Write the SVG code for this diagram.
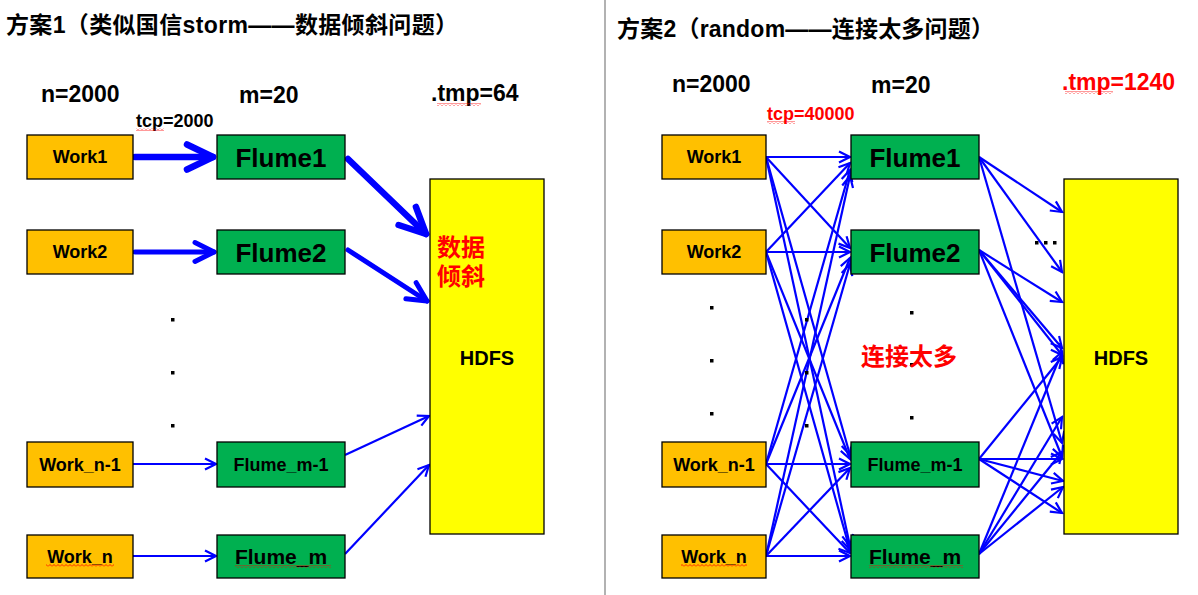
<svg xmlns="http://www.w3.org/2000/svg" width="1198" height="595" viewBox="0 0 1198 595">
<style>
text{font-family:"Liberation Sans","Noto Sans CJK SC",sans-serif;font-weight:bold;fill:#000}
.title{font-size:23px}
.hdr{font-size:23px}
.tcp{font-size:18px}
.red{fill:#ff0000}
.nt{font-size:18px;text-anchor:middle}
.fl{font-size:26px;text-anchor:middle}
.flm{font-size:21px;text-anchor:middle}
.hd{font-size:20px;text-anchor:middle}
.cn{font-size:24px;fill:#ff0000}
.work{fill:#ffc000;stroke:#000;stroke-width:1.3}
.flume{fill:#00b050;stroke:#000;stroke-width:1.3}
.hdfs{fill:#ffff00;stroke:#000;stroke-width:1.3}
.c{stroke:#0000ff;fill:none;stroke-width:2.2;marker-end:url(#ah)}
.big{stroke:#0000ff;fill:none;stroke-width:6.5;stroke-linecap:round;marker-end:url(#ahb)}
.med{stroke:#0000ff;fill:none;stroke-width:5;stroke-linecap:round;marker-end:url(#ahm)}
.dot{fill:#000}
.sq{fill:url(#wave)}
</style>
<defs>
<marker id="ah" markerUnits="userSpaceOnUse" viewBox="-14 -8 16 16" refX="0" refY="0" markerWidth="16" markerHeight="16" orient="auto">
<path d="M-11,-5.5 L0,0 L-11,5.5" fill="none" stroke="#0000ff" stroke-width="2.2"/>
</marker>
<marker id="ahb" markerUnits="userSpaceOnUse" viewBox="-32 -18 38 36" refX="0" refY="0" markerWidth="38" markerHeight="36" orient="auto">
<path d="M-26,-12.5 L0,0 L-26,12.5" fill="none" stroke="#0000ff" stroke-width="6.5" stroke-linecap="round" stroke-linejoin="round"/>
</marker>
<marker id="ahm" markerUnits="userSpaceOnUse" viewBox="-26 -14 30 28" refX="0" refY="0" markerWidth="30" markerHeight="28" orient="auto">
<path d="M-19,-9.5 L0,0 L-19,9.5" fill="none" stroke="#0000ff" stroke-width="5" stroke-linecap="round" stroke-linejoin="round"/>
</marker>
<pattern id="wave" width="4" height="3" patternUnits="userSpaceOnUse">
<path d="M0,2.5 L2,0.5 L4,2.5" fill="none" stroke="#ff0000" stroke-width="0.8"/>
</pattern>
</defs>
<rect width="1198" height="595" fill="#ffffff"/>
<line x1="605" y1="0" x2="605" y2="595" stroke="#7f7f7f" stroke-width="1.2"/>

<g id="labels">
<text class="title" x="6" y="33" textLength="452" lengthAdjust="spacing">方案1（类似国信storm——数据倾斜问题）</text>
<text class="title" x="617" y="37" textLength="377" lengthAdjust="spacing">方案2（random——连接太多问题）</text>
<text class="hdr" x="41" y="102">n=2000</text>
<text class="hdr" x="239" y="103">m=20</text>
<text class="hdr" x="431" y="101">.tmp=64</text>
<text class="tcp" x="136" y="127">tcp=2000</text>
<text class="hdr" x="672" y="92">n=2000</text>
<text class="hdr" x="871" y="93">m=20</text>
<text class="hdr red" x="1062" y="90">.tmp=1240</text>
<text class="tcp red" x="767" y="120">tcp=40000</text>
<rect class="sq" x="136" y="128" width="28" height="3"/>
<rect class="sq" x="437" y="103" width="44" height="3"/>
<rect class="sq" x="767" y="121" width="28" height="3"/>
<rect class="sq" x="1065" y="91" width="48" height="3"/>
</g>

<g id="connectors">
<line class="big" x1="135" y1="157" x2="213" y2="157"/>
<line class="med" x1="135" y1="252" x2="214" y2="252"/>
<line class="big" x1="348" y1="159" x2="426" y2="234"/>
<line class="med" x1="348" y1="250" x2="427" y2="301"/>
<line class="c" x1="133" y1="464" x2="216" y2="464"/>
<line class="c" x1="133" y1="556" x2="216" y2="556"/>
<line class="c" x1="345" y1="455" x2="429" y2="416"/>
<line class="c" x1="345" y1="554" x2="429" y2="465"/>

<line class="c" x1="766" y1="157" x2="850" y2="157"/>
<line class="c" x1="766" y1="157" x2="850" y2="248"/>
<line class="c" x1="766" y1="157" x2="850" y2="455"/>
<line class="c" x1="766" y1="157" x2="850" y2="546"/>
<line class="c" x1="766" y1="252" x2="850" y2="163"/>
<line class="c" x1="766" y1="252" x2="850" y2="252"/>
<line class="c" x1="766" y1="252" x2="850" y2="459"/>
<line class="c" x1="766" y1="252" x2="850" y2="550"/>
<line class="c" x1="766" y1="464" x2="850" y2="170"/>
<line class="c" x1="766" y1="464" x2="850" y2="258"/>
<line class="c" x1="766" y1="464" x2="850" y2="464"/>
<line class="c" x1="766" y1="464" x2="850" y2="553"/>
<line class="c" x1="766" y1="556" x2="850" y2="176"/>
<line class="c" x1="766" y1="556" x2="850" y2="264"/>
<line class="c" x1="766" y1="556" x2="850" y2="468"/>
<line class="c" x1="766" y1="556" x2="850" y2="556"/>

<line class="c" x1="979" y1="157" x2="1062" y2="212"/>
<line class="c" x1="979" y1="157" x2="1062" y2="272"/>
<line class="c" x1="979" y1="157" x2="1062" y2="443"/>
<line class="c" x1="979" y1="250" x2="1062" y2="302"/>
<line class="c" x1="979" y1="250" x2="1062" y2="348"/>
<line class="c" x1="979" y1="250" x2="1062" y2="355"/>
<line class="c" x1="979" y1="250" x2="1062" y2="457"/>
<line class="c" x1="979" y1="459" x2="1062" y2="357"/>
<line class="c" x1="979" y1="459" x2="1062" y2="459"/>
<line class="c" x1="979" y1="459" x2="1063" y2="481"/>
<line class="c" x1="979" y1="459" x2="1062" y2="513"/>
<line class="c" x1="979" y1="554" x2="1062" y2="352"/>
<line class="c" x1="979" y1="554" x2="1062" y2="417"/>
<line class="c" x1="979" y1="554" x2="1062" y2="452"/>
<line class="c" x1="979" y1="554" x2="1063" y2="487"/>
</g>

<g id="L-work1"><rect class="work" x="27" y="135" width="106" height="44"/><text class="nt" x="80" y="163">Work1</text></g>
<g id="L-work2"><rect class="work" x="27" y="230" width="106" height="44"/><text class="nt" x="80" y="258">Work2</text></g>
<g id="L-workn1"><rect class="work" x="27" y="442" width="106" height="45"/><text class="nt" x="80" y="471">Work_n-1</text></g>
<g id="L-workn"><rect class="work" x="27" y="535" width="106" height="43"/><text class="nt" x="80" y="563">Work_n</text><rect class="sq" x="46" y="564" width="68" height="3"/></g>
<g id="L-flume1"><rect class="flume" x="217" y="135" width="128" height="44"/><text class="fl" x="281" y="167">Flume1</text></g>
<g id="L-flume2"><rect class="flume" x="217" y="230" width="128" height="44"/><text class="fl" x="281" y="262">Flume2</text></g>
<g id="L-flumem1"><rect class="flume" x="217" y="442" width="128" height="45"/><text class="nt" x="281" y="471">Flume_m-1</text></g>
<g id="L-flumem"><rect class="flume" x="217" y="535" width="128" height="43"/><text class="flm" x="281" y="564">Flume_m</text><rect class="sq" x="235" y="565" width="96" height="3"/></g>
<g id="L-hdfs"><rect class="hdfs" x="430" y="179" width="114" height="355"/><text class="hd" x="487" y="365">HDFS</text><text class="cn" x="437" y="256">数据</text><text class="cn" x="437" y="285">倾斜</text></g>

<g id="R-work1"><rect class="work" x="662" y="135" width="104" height="44"/><text class="nt" x="714" y="163">Work1</text></g>
<g id="R-work2"><rect class="work" x="662" y="230" width="104" height="44"/><text class="nt" x="714" y="258">Work2</text></g>
<g id="R-workn1"><rect class="work" x="662" y="442" width="104" height="45"/><text class="nt" x="714" y="471">Work_n-1</text></g>
<g id="R-workn"><rect class="work" x="662" y="535" width="104" height="43"/><text class="nt" x="714" y="563">Work_n</text><rect class="sq" x="681" y="564" width="66" height="3"/></g>
<g id="R-flume1"><rect class="flume" x="851" y="135" width="128" height="44"/><text class="fl" x="915" y="167">Flume1</text></g>
<g id="R-flume2"><rect class="flume" x="851" y="230" width="128" height="44"/><text class="fl" x="915" y="262">Flume2</text></g>
<g id="R-flumem1"><rect class="flume" x="851" y="442" width="128" height="45"/><text class="nt" x="915" y="471">Flume_m-1</text></g>
<g id="R-flumem"><rect class="flume" x="851" y="535" width="128" height="43"/><text class="flm" x="915" y="564">Flume_m</text><rect class="sq" x="869" y="565" width="94" height="3"/></g>
<g id="R-hdfs"><rect class="hdfs" x="1064" y="179" width="114" height="355"/><text class="hd" x="1121" y="365">HDFS</text></g>

<g id="dots">
<rect class="dot" x="171" y="318" width="3.5" height="3.5"/>
<rect class="dot" x="171" y="371" width="3.5" height="3.5"/>
<rect class="dot" x="171" y="424" width="3.5" height="3.5"/>
<rect class="dot" x="710" y="306" width="3.5" height="3.5"/>
<rect class="dot" x="710" y="359" width="3.5" height="3.5"/>
<rect class="dot" x="710" y="412" width="3.5" height="3.5"/>
<rect class="dot" x="805" y="318" width="3.5" height="3.5"/>
<rect class="dot" x="805" y="371" width="3.5" height="3.5"/>
<rect class="dot" x="805" y="424" width="3.5" height="3.5"/>
<rect class="dot" x="910" y="311" width="3.5" height="3.5"/>
<rect class="dot" x="910" y="363" width="3.5" height="3.5"/>
<rect class="dot" x="910" y="416" width="3.5" height="3.5"/>
<rect class="dot" x="1035" y="241" width="3.5" height="3.5"/>
<rect class="dot" x="1044" y="241" width="3.5" height="3.5"/>
<rect class="dot" x="1053" y="241" width="3.5" height="3.5"/>
</g>
<text class="cn" x="861" y="365">连接太多</text>
</svg>
